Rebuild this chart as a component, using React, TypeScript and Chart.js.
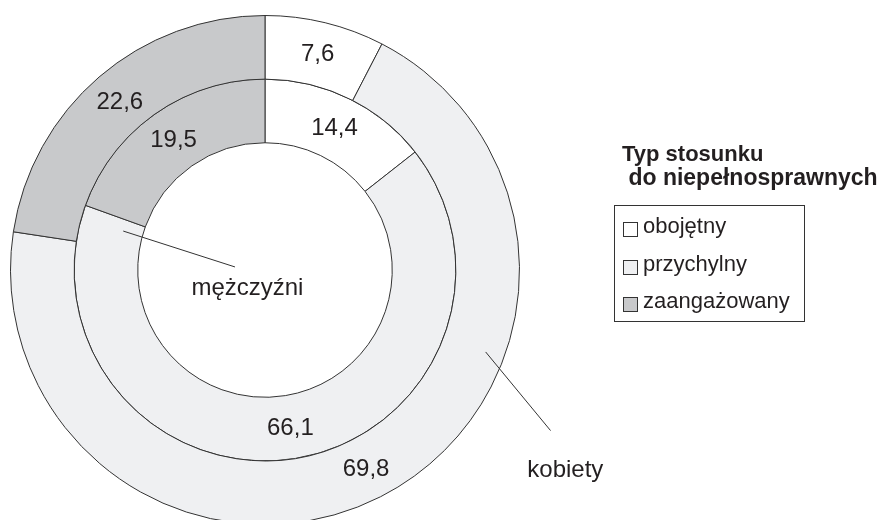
import React, { useEffect, useRef } from "react";
import { Chart, registerables } from "chart.js";

Chart.register(...registerables);

const categories = ["obojętny", "przychylny", "zaangażowany"];
const ringNames = ["kobiety", "mężczyźni"];
const womenValues = [7.6, 69.8, 22.6];
const menValues = [14.4, 66.1, 19.5];
const legendTitle = ["Typ stosunku", " do niepełnosprawnych"];
const sliceColors = ["#ffffff", "#eff0f2", "#c8c9cb"];

const FONT = "'Liberation Sans', Arial, Helvetica, sans-serif";
const INK = "#231f20";
const LINE = "#333333";

const fmt = (v: number) => v.toFixed(1).replace(".", ",");

const overlayPlugin = {
  id: "overlay",
  afterDatasetsDraw(chart: any) {
    const ctx = chart.ctx;
    ctx.save();
    // values at arc centres
    ctx.fillStyle = INK;
    ctx.font = `24px ${FONT}`;
    ctx.textAlign = "center";
    ctx.textBaseline = "middle";
    chart.data.datasets.forEach((ds: any, di: number) => {
      const meta = chart.getDatasetMeta(di);
      meta.data.forEach((arc: any, i: number) => {
        const p = arc.tooltipPosition();
        ctx.fillText(fmt(ds.data[i]), p.x, p.y + 1);
      });
    });

    // ring name leaders
    const arc0 = chart.getDatasetMeta(0).data[0];
    const cx = arc0.x;
    const cy = arc0.y;
    const R = arc0.outerRadius;
    ctx.strokeStyle = LINE;
    ctx.lineWidth = 1;
    ctx.beginPath();
    ctx.moveTo(cx + 0.867 * R, cy + 0.322 * R);
    ctx.lineTo(cx + 1.122 * R, cy + 0.631 * R);
    ctx.moveTo(cx - 0.557 * R, cy - 0.153 * R);
    ctx.lineTo(cx - 0.118 * R, cy - 0.012 * R);
    ctx.stroke();
    ctx.textBaseline = "alphabetic";
    ctx.fillText(ringNames[0], cx + 1.18 * R, cy + 0.812 * R);
    ctx.fillText(ringNames[1], cx - 0.069 * R, cy + 0.098 * R);

    // legend
    ctx.textAlign = "left";
    ctx.font = `bold 22px ${FONT}`;
    ctx.fillText(legendTitle[0], 622, 161);
    ctx.font = `bold 23px ${FONT}`;
    ctx.fillText(legendTitle[1], 622, 185);
    ctx.strokeStyle = LINE;
    ctx.strokeRect(614.5, 205.5, 190, 116);
    ctx.font = `22px ${FONT}`;
    const rows = [229, 267, 304];
    categories.forEach((c, i) => {
      ctx.fillStyle = sliceColors[i];
      ctx.fillRect(623.5, rows[i] - 7, 14, 14);
      ctx.strokeStyle = LINE;
      ctx.strokeRect(623.5, rows[i] - 6.5, 14, 14);
      ctx.fillStyle = INK;
      ctx.fillText(c, 643, rows[i] + 4);
    });
    ctx.restore();
  },
};

export default function App() {
  const ref = useRef<HTMLCanvasElement>(null);
  useEffect(() => {
    if (!ref.current) return;
    const chart = new Chart(ref.current, {
      type: "doughnut",
      data: {
        labels: categories,
        datasets: [
          { label: ringNames[0], data: womenValues, backgroundColor: sliceColors, borderColor: LINE, borderWidth: 1 },
          { label: ringNames[1], data: menValues, backgroundColor: sliceColors, borderColor: LINE, borderWidth: 1 },
        ],
      },
      options: {
        responsive: false,
        animation: false,
        cutout: "50%",
        layout: { padding: { left: 10, top: 15, right: 361, bottom: 5 } },
        plugins: { legend: { display: false }, tooltip: { enabled: false } },
      },
      plugins: [overlayPlugin],
    });
    return () => chart.destroy();
  }, []);
  return (
    <div style={{ position: "fixed", left: 0, top: 0, width: 881, height: 520, overflow: "hidden", background: "#fff" }}>
      <canvas ref={ref} width={881} height={530} style={{ display: "block" }} />
    </div>
  );
}
